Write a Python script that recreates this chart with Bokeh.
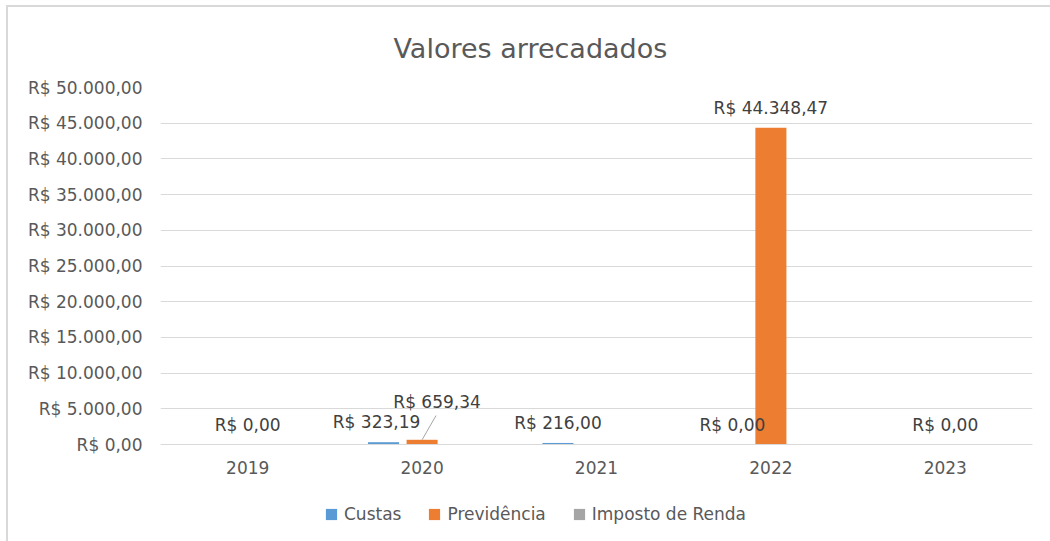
from bokeh.plotting import figure
from bokeh.models import (ColumnDataSource, FactorRange, Range1d, FixedTicker,
                          Legend, LegendItem)
from bokeh.transform import dodge
from bokeh.core.properties import value
from bokeh.embed import file_html
from bokeh.resources import INLINE

# ---------------- data ----------------
years = ["2019", "2020", "2021", "2022", "2023"]
custas = [0.00, 323.19, 216.00, 0.00, 0.00]
previdencia = [0.00, 659.34, 0.00, 44348.47, 0.00]
imposto = [0.00, 0.00, 0.00, 0.00, 0.00]
series_names = ["Custas", "Previdência", "Imposto de Renda"]
y_ticks = [0, 5000, 10000, 15000, 20000, 25000, 30000, 35000, 40000, 45000, 50000]
title_text = "Valores arrecadados"
# which data labels are visible in the original
custas_label_shown = [False, True, True, True, False]
previdencia_label_shown = [True, True, False, True, True]

# ---------------- style / layout ----------------
COLORS = ["#5B9BD5", "#ED7D31", "#A5A5A5"]
FONT = "DejaVu Sans"
AXIS_TXT = "#595959"
LABEL_TXT = "#404040"
GRID = "#d9d9d9"
BAR_W = 0.178
OFFS = [-0.221, 0.0, 0.221]
PLOT_H = 357          # pixels between 0 and the top tick
BELOW_H = 91         # room below the zero line for year labels and legend
Y_MAX = y_ticks[-1]
Y_MIN = -BELOW_H * Y_MAX / PLOT_H


def brl(v):
    s = f"{v:,.2f}"
    s = s.replace(",", "X").replace(".", ",").replace("X", ".")
    return "R$ " + s


p = figure(frame_width=872, frame_height=PLOT_H + BELOW_H,
           x_range=FactorRange(factors=years, range_padding=0),
           y_range=Range1d(Y_MIN, Y_MAX),
           output_backend="svg", toolbar_location=None,
           min_border_left=152, min_border_right=18,
           min_border_top=80, min_border_bottom=6)
p.styles = {"border-left": "2px solid #d9d9d9", "border-top": "2px solid #d9d9d9",
            "margin-left": "6px", "margin-top": "5px"}

p.title.text = title_text
p.title.align = "left"
p.title.offset = 233
p.title.text_font = FONT
p.title.text_font_size = "27px"
p.title.text_font_style = "normal"
p.title.text_color = AXIS_TXT
p.title.standoff = 47

src = ColumnDataSource(dict(year=years, custas=custas, previdencia=previdencia,
                            imposto=imposto))
renderers = []
for name, col, off, color in zip(series_names, ["custas", "previdencia", "imposto"],
                                 OFFS, COLORS):
    r = p.vbar(x=dodge("year", off, range=p.x_range), top=col, width=BAR_W,
               source=src, fill_color=color, line_color=None)
    renderers.append(r)

# data labels
def label_source(vals, shown, nudges_x, nudges_y):
    xs, ys, ts, ox, oy = [], [], [], [], []
    for y, v, s, nx, ny in zip(years, vals, shown, nudges_x, nudges_y):
        if s:
            xs.append(y); ys.append(v); ts.append(brl(v)); ox.append(nx); oy.append(ny)
    return ColumnDataSource(dict(x=xs, y=ys, t=ts, ox=ox, oy=oy))

c_src = label_source(custas, custas_label_shown, [0, -7, 0, 0, 0], [-20] * 5)
p_src = label_source(previdencia, previdencia_label_shown,
                     [0, 15, 0, 0, 0], [-20, -38, -20, -20, -20])
for s, off in [(c_src, OFFS[0]), (p_src, OFFS[1])]:
    p.text(x=dodge("x", off, range=p.x_range), y="y", text="t", source=s,
           x_offset="ox", y_offset="oy", text_align="center",
           text_baseline="middle", text_font=value(FONT),
           text_font_size="17px", text_color=LABEL_TXT)

# leader line for the moved label (Previdência 2020)
lead = ColumnDataSource(dict(x=[years[1]], y0=[previdencia[1]],
                             y1=[previdencia[1] + 3400]))
p.segment(x0=dodge("x", 0.0, range=p.x_range), y0="y0",
          x1=dodge("x", 0.08, range=p.x_range), y1="y1",
          source=lead, line_color="#a6a6a6", line_width=1)

# axes
p.yaxis.ticker = FixedTicker(ticks=y_ticks)
p.yaxis.major_label_overrides = {t: brl(t) for t in y_ticks}
p.yaxis.axis_line_color = None
p.yaxis.major_tick_line_color = None
p.yaxis.minor_tick_line_color = None
p.yaxis.major_label_text_font = FONT
p.yaxis.major_label_text_font_size = "17px"
p.yaxis.major_label_text_color = AXIS_TXT
p.yaxis.major_label_standoff = 12

p.xaxis.fixed_location = 0
p.xaxis.axis_line_color = GRID
p.xaxis.major_tick_line_color = None
p.xaxis.minor_tick_line_color = None
p.xaxis.major_label_text_font = FONT
p.xaxis.major_label_text_font_size = "17px"
p.xaxis.major_label_text_color = AXIS_TXT
p.xaxis.major_label_standoff = 10

p.xgrid.grid_line_color = None
p.ygrid.ticker = FixedTicker(ticks=y_ticks)
p.ygrid.grid_line_color = GRID
p.outline_line_color = None

legend = Legend(items=[LegendItem(label=n, renderers=[r])
                       for n, r in zip(series_names, renderers)],
                orientation="horizontal", location=(164, 11),
                label_text_font=FONT, label_text_font_size="17px",
                label_text_color=AXIS_TXT, glyph_width=14, glyph_height=14,
                spacing=26, label_standoff=6, border_line_color=None,
                background_fill_alpha=0, padding=0, margin=0)
p.add_layout(legend)

open("out.html", "w").write(file_html(p, INLINE))
